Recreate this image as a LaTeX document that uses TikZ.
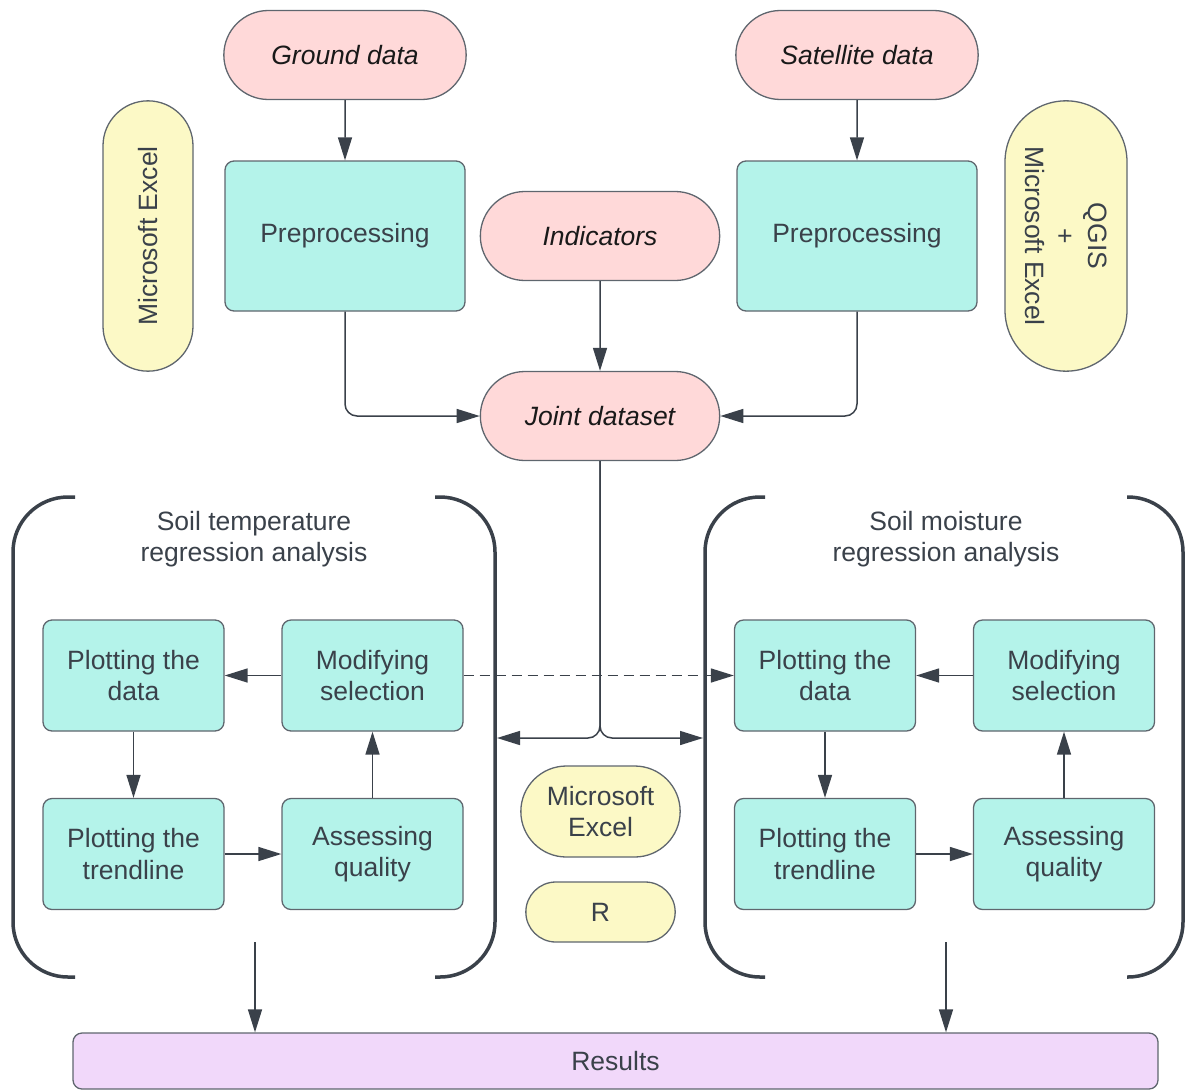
\documentclass[tikz,border=0pt]{standalone}
\usepackage{fontspec}
\setmainfont{Liberation Sans}
\usetikzlibrary{positioning,arrows.meta,shapes.misc}
\definecolor{SlateLine}{HTML}{3A414A}
\definecolor{BoxEdge}{HTML}{5F666E}
\definecolor{SoftPink}{HTML}{FFD9D9}
\definecolor{SoftTeal}{HTML}{B4F3EA}
\definecolor{SoftYellow}{HTML}{FCF9C6}
\definecolor{SoftLilac}{HTML}{F1D8FA}

\begin{document}
\begin{tikzpicture}[x=1pt,y=-1pt,
  every node/.style={font=\fontsize{26.5}{31.5}\selectfont,text=SlateLine,align=center},
  source/.style={draw=BoxEdge,line width=1.3pt,fill=SoftPink,rounded rectangle,minimum width=249pt,minimum height=89pt,font=\fontsize{26.5}{31.5}\selectfont\itshape,text=black!90},
  task/.style={draw=BoxEdge,line width=1.3pt,fill=SoftTeal,rounded corners=9pt,minimum width=181pt,minimum height=111pt},
  tool/.style={draw=BoxEdge,line width=1.3pt,fill=SoftYellow,rounded rectangle},
  arr/.style={-{Triangle[length=23pt,width=14pt]},line width=1.5pt,draw=SlateLine},
  bracket/.style={line width=3.5pt,draw=SlateLine,rounded corners=55pt}]
  \useasboundingbox (0,0) rectangle (1185,1090);

  % data sources
  \node[source] (ground) at (345,55) {Ground data};
  \node[source] (sat) at (857,55) {Satellite data};
  \node[task,minimum width=240pt,minimum height=150pt] (prepL) at (345,236) {Preprocessing};
  \node[task,minimum width=240pt,minimum height=150pt] (prepR) at (857,236) {Preprocessing};
  \node[source,minimum width=246pt] (ind) at (600,236) {Indicators};
  \node[source,minimum width=246pt] (joint) at (600,416) {Joint dataset};

  % software used
  \node[tool,rotate=90,minimum width=277pt,minimum height=90pt] (excelL) at (148,236) {Microsoft Excel};
  \node[tool,rotate=-90,minimum width=277pt,minimum height=122pt] (qgis) at (1066,236) {QGIS\\+\\Microsoft Excel};
  \node[tool,minimum width=166pt,minimum height=91pt] (excelC) at (600.5,811.5) {Microsoft\\Excel};
  \node[tool,minimum width=156pt,minimum height=60pt] (rlang) at (600.5,912) {R};

  \draw[arr] (ground) -- (prepL);
  \draw[arr] (sat) -- (prepR);
  \draw[arr] (ind) -- (joint);
  \draw[arr,rounded corners=12pt] (prepL.south) |- (joint.west);
  \draw[arr,rounded corners=12pt] (prepR.south) |- (joint.east);

  % regression groups
  \draw[bracket] (75,497) -- (13,497) -- (13,977) -- (75,977);
  \draw[bracket] (435,497) -- (495,497) -- (495,977) -- (435,977);
  \draw[bracket] (765,497) -- (705,497) -- (705,977) -- (765,977);
  \draw[bracket] (1127,497) -- (1183,497) -- (1183,977) -- (1127,977);
  \node (titleL) at (254,539) {Soil temperature\\regression analysis};
  \node (titleR) at (946,539) {Soil moisture\\regression analysis};

  \node[task] (plotL) at (133.5,675.5) {Plotting the\\data};
  \node[task] (modL) at (372.5,675.5) {Modifying\\selection};
  \node[task] (trendL) at (133.5,854) {Plotting the\\trendline};
  \node[task] (assessL) at (372.5,854) {Assessing\\quality};
  \node[task] (plotR) at (825,675.5) {Plotting the\\data};
  \node[task] (modR) at (1064,675.5) {Modifying\\selection};
  \node[task] (trendR) at (825,854) {Plotting the\\trendline};
  \node[task] (assessR) at (1064,854) {Assessing\\quality};

  \draw[arr] (modL) -- (plotL);
  \draw[arr] (plotL) -- (trendL);
  \draw[arr] (trendL) -- (assessL);
  \draw[arr] (assessL) -- (modL);
  \draw[arr] (modR) -- (plotR);
  \draw[arr] (plotR) -- (trendR);
  \draw[arr] (trendR) -- (assessR);
  \draw[arr] (assessR) -- (modR);
  \draw[arr,dash pattern=on 10pt off 6pt] (modL) -- (plotR);

  \coordinate (tempin) at (497,738);
  \coordinate (moistin) at (703,738);
  \draw[arr,rounded corners=12pt] (joint.south) |- (tempin);
  \draw[arr,rounded corners=12pt] (joint.south) |- (moistin);

  % results
  \node[draw=BoxEdge,line width=1.3pt,fill=SoftLilac,rounded corners=9pt,minimum width=1085pt,minimum height=56pt] (results) at (615.5,1061) {Results};
  \coordinate (tempout) at (255,942);
  \coordinate (moistout) at (946,942);
  \draw[arr] (tempout) -- (tempout |- results.north);
  \draw[arr] (moistout) -- (moistout |- results.north);
\end{tikzpicture}
\end{document}
